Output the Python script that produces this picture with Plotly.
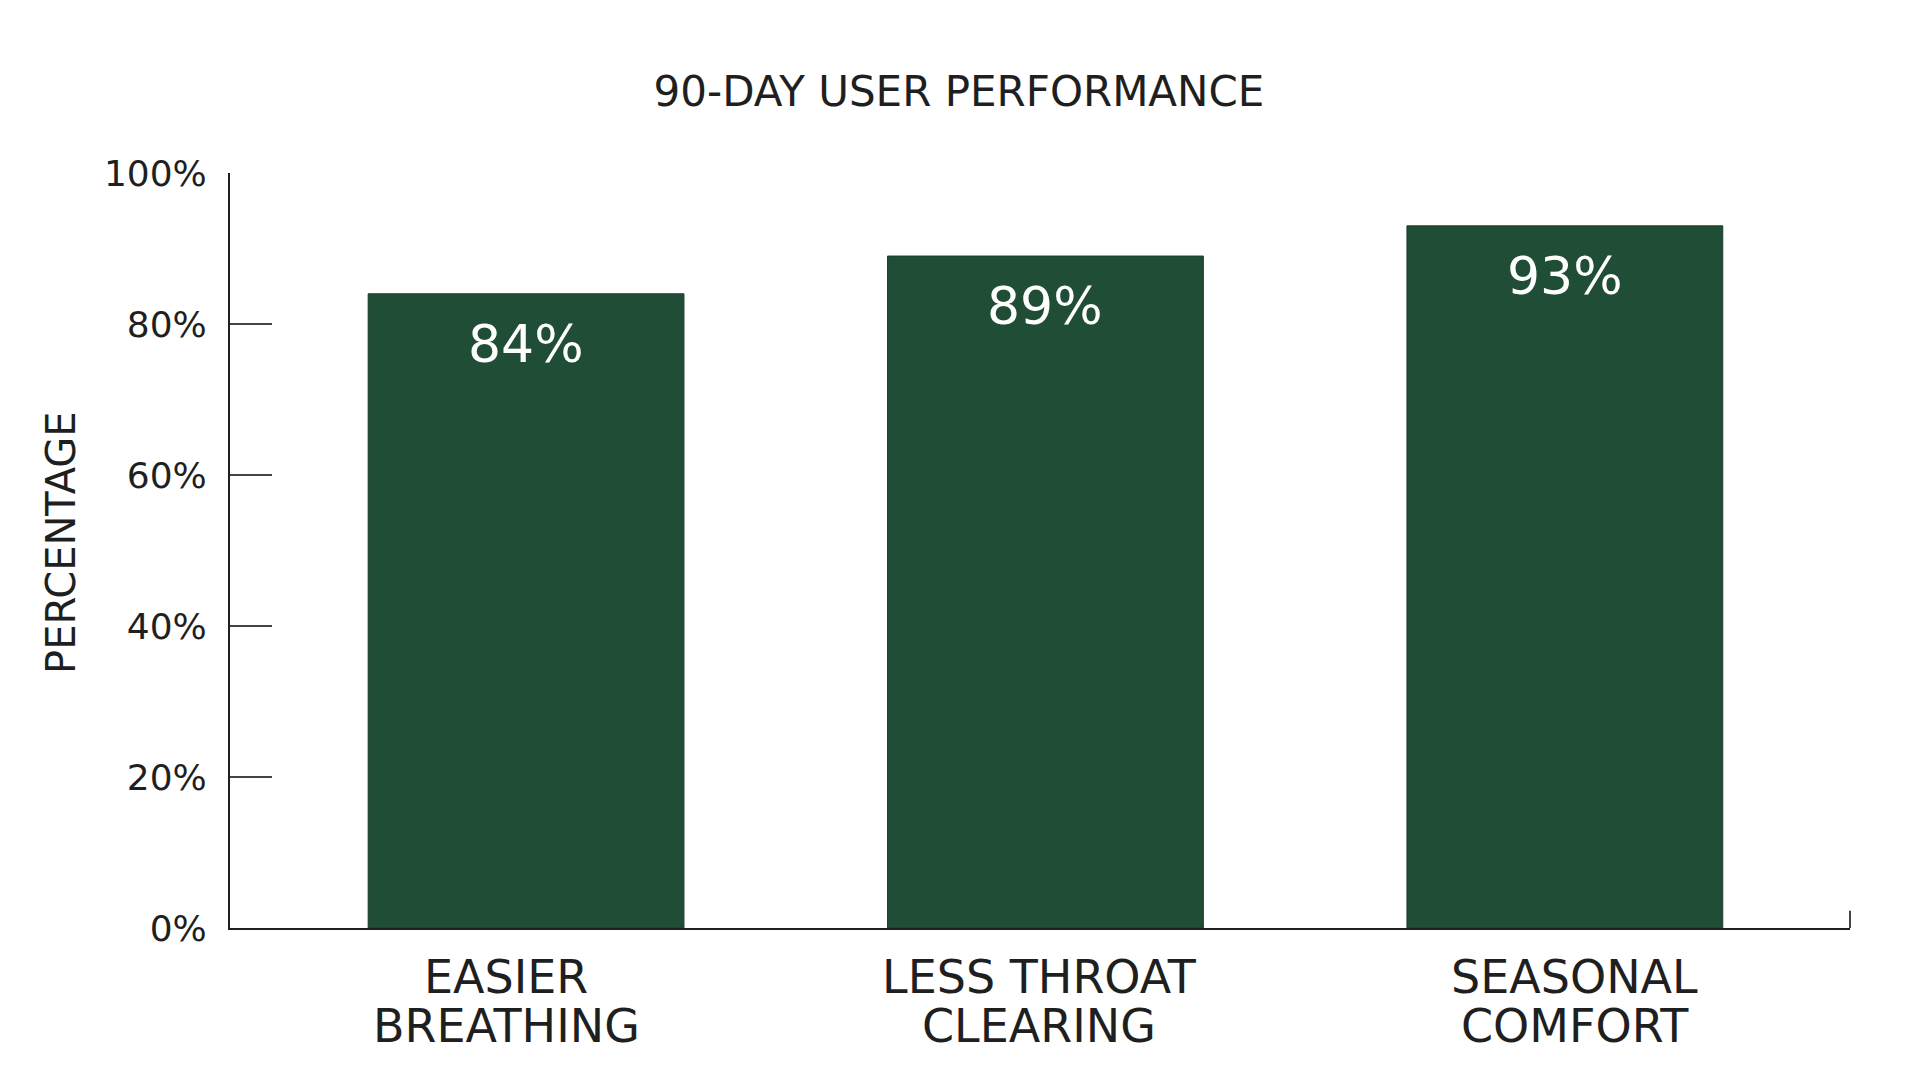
import plotly.graph_objects as go

categories = ["EASIER<br>BREATHING", "LESS THROAT<br>CLEARING", "SEASONAL<br>COMFORT"]
values = [84, 89, 93]
y_ticks = [0, 20, 40, 60, 80, 100]

bar_color = "#204d35"
ink = "#1f1f1f"
font_family = "DejaVu Sans"

fig = go.Figure()

fig.add_trace(go.Bar(
    x=categories,
    y=values,
    width=0.608,
    marker=dict(color=bar_color, line=dict(color="#193d29", width=1)),
    showlegend=False,
    hoverinfo="skip",
))

# value labels sitting inside the top of each bar
for c, v in zip(categories, values):
    fig.add_annotation(
        x=c, y=v, xref="x", yref="y",
        text=f"{v}%",
        showarrow=False,
        yanchor="middle",
        yshift=-50,
        font=dict(family=font_family, size=52, color="white"),
    )

# category labels under the axis, one annotation per line (tighter leading)
label_nudge = [-20, -6, 10]
for c, dx in zip(categories, label_nudge):
    for i, line in enumerate(c.split("<br>")):
        fig.add_annotation(
            x=c, y=0, xref="x", yref="y",
            text=line,
            showarrow=False,
            yanchor="middle",
            xshift=dx,
            yshift=-49 - 49 * i,
            font=dict(family=font_family, size=46, color=ink),
        )

# y axis title
fig.add_annotation(
    x=-0.1043, y=0.51, xref="paper", yref="paper",
    text="PERCENTAGE",
    textangle=-90,
    showarrow=False,
    xanchor="center", yanchor="middle",
    font=dict(family=font_family, size=40, color=ink),
)

# small end tick at the right of the x axis
fig.add_shape(
    type="line", xref="x domain", yref="y",
    x0=1, x1=1, y0=0, y1=2.3,
    line=dict(color="#444444", width=2),
)

fig.update_layout(
    width=1920,
    height=1080,
    margin=dict(l=222, r=78, t=165, b=160),
    paper_bgcolor="white",
    plot_bgcolor="white",
    font=dict(family=font_family, color=ink),
    title=dict(
        text="90-DAY USER PERFORMANCE",
        x=0.4953, xanchor="center",
        y=1 - 83 / 1080, yref="container", yanchor="middle",
        font=dict(family=font_family, size=42, color=ink),
    ),
)

fig.update_xaxes(
    range=[-0.57, 2.549],
    showline=True, linecolor=ink, linewidth=2,
    showgrid=False, zeroline=False,
    ticks="",
    showticklabels=False,
)

fig.update_yaxes(
    range=[0, 100],
    tickvals=y_ticks,
    ticktext=[f"{t}%" for t in y_ticks],
    showline=True, linecolor=ink, linewidth=2,
    showgrid=False, zeroline=False,
    ticks="inside", ticklen=42, tickwidth=2, tickcolor="#444444",
    tickfont=dict(family=font_family, size=36, color=ink),
    ticklabelstandoff=14,
)

fig.write_html("out.html")
